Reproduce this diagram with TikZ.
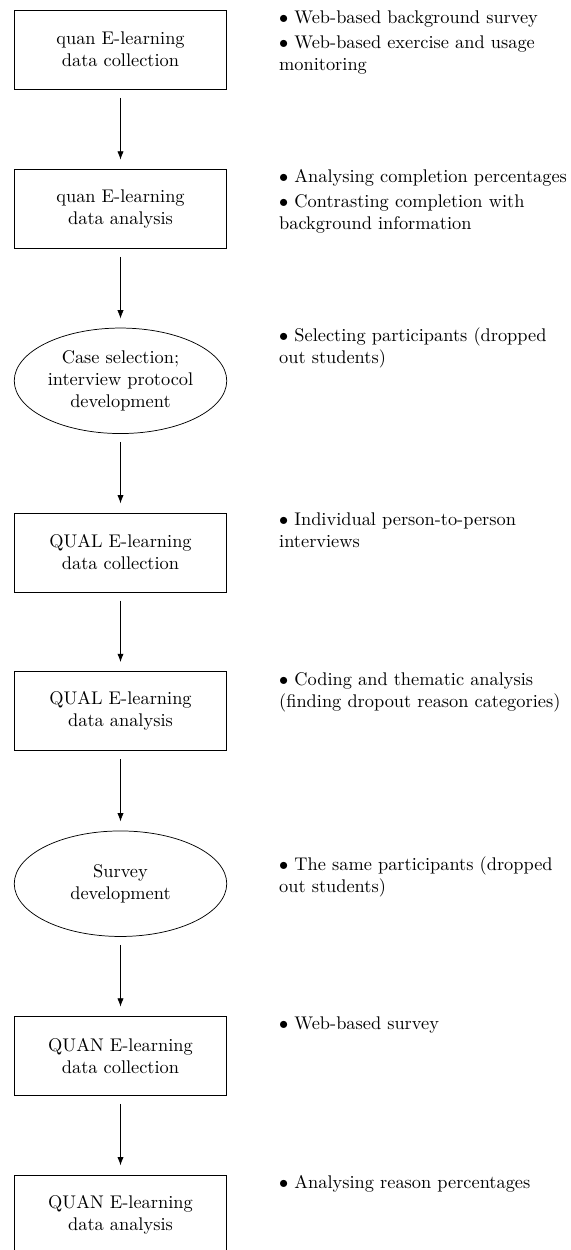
\documentclass[tikz,border=0pt]{standalone}
\usetikzlibrary{arrows.meta,shapes.geometric}
\begin{document}
\begin{tikzpicture}[x=0.545pt,y=-0.545pt,
  stagebox/.style={draw, line width=0.4pt, minimum width=115.8pt, minimum height=43.2pt, align=center, inner sep=2pt},
  stageoval/.style={draw, ellipse, line width=0.4pt, minimum width=115.8pt, minimum height=57.5pt, align=center, inner sep=0pt},
  flow/.style={-{Latex[length=4.5pt,width=3.4pt]}, line width=0.4pt, shorten <=4.4pt, shorten >=5pt},
  note/.style={anchor=base west, inner sep=0pt}]
\useasboundingbox (0,0) rectangle (571,1250);

% process stages
\node[stagebox]  (s1) at (120.5,49.7)   {quan E-learning\\data collection};
\node[stagebox]  (s2) at (120.5,208.8)  {quan E-learning\\data analysis};
\node[stageoval] (s3) at (120.5,380.8)  {Case selection;\\interview protocol\\development};
\node[stagebox]  (s4) at (120.5,552.5)  {QUAL E-learning\\data collection};
\node[stagebox]  (s5) at (120.5,711.2)  {QUAL E-learning\\data analysis};
\node[stageoval] (s6) at (120.5,883.7)  {Survey\\development};
\node[stagebox]  (s7) at (120.5,1055.8) {QUAN E-learning\\data collection};
\node[stagebox]  (s8) at (120.5,1214.5) {QUAN E-learning\\data analysis};

% flow between stages
\draw[flow] (s1) -- (s2);
\draw[flow] (s2) -- (s3);
\draw[flow] (s3) -- (s4);
\draw[flow] (s4) -- (s5);
\draw[flow] (s5) -- (s6);
\draw[flow] (s6) -- (s7);
\draw[flow] (s7) -- (s8);

% activities beside each stage
\node[note] (n1) at (278.8,24) {\begin{tabular}[t]{@{}l@{}}$\bullet$ Web-based background survey\\[1.4pt]$\bullet$ Web-based exercise and usage\\monitoring\end{tabular}};
\node[note] (n2) at (278.8,182.7) {\begin{tabular}[t]{@{}l@{}}$\bullet$ Analysing completion percentages\\[1.4pt]$\bullet$ Contrasting completion with\\background information\end{tabular}};
\node[note] (n3) at (278.8,341.7) {\begin{tabular}[t]{@{}l@{}}$\bullet$ Selecting participants (dropped\\out students)\end{tabular}};
\node[note] (n4) at (278.8,525.5) {\begin{tabular}[t]{@{}l@{}}$\bullet$ Individual person-to-person\\interviews\end{tabular}};
\node[note] (n5) at (278.8,685) {\begin{tabular}[t]{@{}l@{}}$\bullet$ Coding and thematic analysis\\(finding dropout reason categories)\end{tabular}};
\node[note] (n6) at (278.8,870.7) {\begin{tabular}[t]{@{}l@{}}$\bullet$ The same participants (dropped\\out students)\end{tabular}};
\node[note] (n7) at (278.8,1029) {$\bullet$ Web-based survey};
\node[note] (n8) at (278.8,1188) {$\bullet$ Analysing reason percentages};
\end{tikzpicture}
\end{document}
